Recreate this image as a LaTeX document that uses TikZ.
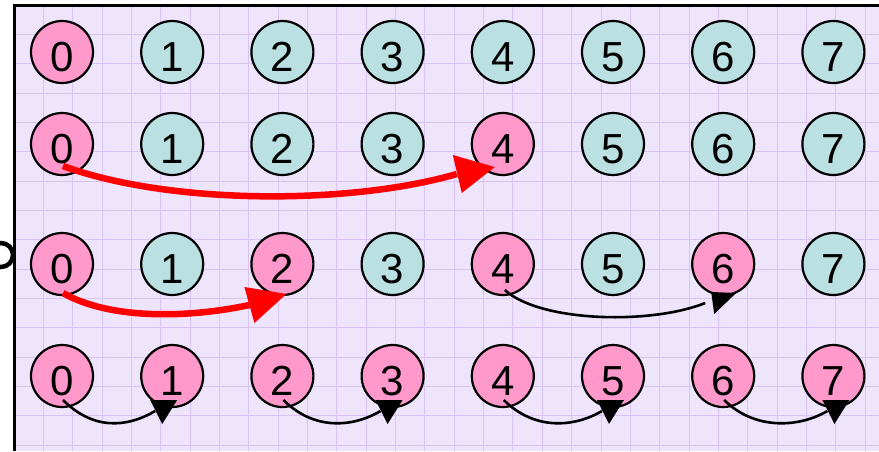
\documentclass[tikz,border=0pt]{standalone}
\usepackage{fontspec}
\setmainfont{Liberation Sans}
\usetikzlibrary{calc}
\definecolor{bgl}{HTML}{EEE4FC}
\definecolor{gridc}{HTML}{D9C3F4}
\definecolor{pinkc}{HTML}{FF99CC}
\definecolor{tealc}{HTML}{BAE0E2}
\definecolor{redc}{HTML}{FF0000}
\begin{document}
\begin{tikzpicture}[x=1pt,y=-1pt,
  proc/.style={circle,draw=black,line width=2.2pt,minimum size=62pt,inner sep=0pt,
    font=\fontsize{42}{42}\selectfont,text height=38pt,text depth=0pt},
  act/.style={proc,fill=pinkc},
  idle/.style={proc,fill=tealc},
  gridline/.style={draw=gridc,line width=1pt},
  redarrow/.style={draw=redc,line width=6.5pt},
  blkarrow/.style={draw=black,line width=2.6pt},
  redhead/.style={fill=redc},
  blkhead/.style={fill=black}]
\useasboundingbox (0,0) rectangle (879,451);
% background and grid
\fill[bgl] (14,5) rectangle (879,451);
\foreach \i in {0,...,29} \draw[gridline] ({14+29.35*\i},5) -- ({14+29.35*\i},451);
\foreach \j in {0,...,15} \draw[gridline] (14,{5+29.35*\j}) -- (879,{5+29.35*\j});
% partial letter at left edge
\draw[line width=4.5pt] (1,255) circle (12);
% frame
\draw[line width=3pt] (14,451) -- (14,5) -- (879,5);
% nodes
\foreach \c/\s in {0/act,1/idle,2/idle,3/idle,4/idle,5/idle,6/idle,7/idle}
  \node[\s] (r1c\c) at ({62+110.2*\c},52) {\c};
\foreach \c/\s in {0/act,1/idle,2/idle,3/idle,4/act,5/idle,6/idle,7/idle}
  \node[\s] (r2c\c) at ({62+110.2*\c},144) {\c};
\foreach \c/\s in {0/act,1/idle,2/act,3/idle,4/act,5/idle,6/act,7/idle}
  \node[\s] (r3c\c) at ({62+110.2*\c},264) {\c};
\foreach \c/\s in {0/act,1/act,2/act,3/act,4/act,5/act,6/act,7/act}
  \node[\s] (r4c\c) at ({62+110.2*\c},376) {\c};
% row 2 red arrow 0 -> 4
\draw[redarrow] ($(r2c0)+(1,22)$) .. controls ($(r2c0)+(108,61)$) and ($(r2c4)+(-153,61)$) .. ($(r2c4)+(-46,30)$);
\fill[redhead] ($(r2c4)+(-50,11)$) -- ($(r2c4)+(-8,23)$) -- ($(r2c4)+(-41,49)$) -- cycle;
% row 3 red arrow 0 -> 2
\draw[redarrow] ($(r3c0)+(1,29)$) .. controls ($(r3c0)+(48,56)$) and ($(r3c2)+(-93,54)$) .. ($(r3c2)+(-33,41)$);
\fill[redhead] ($(r3c2)+(-38,23)$) -- ($(r3c2)+(4,30)$) -- ($(r3c2)+(-28,59)$) -- cycle;
% row 3 black arrow 4 -> 6
\draw[blkarrow] ($(r3c4)+(2,26)$) .. controls ($(r3c4)+(37,58)$) and ($(r3c6)+(-73,61)$) .. ($(r3c6)+(-18,39)$);
\fill[blkhead] ($(r3c6)+(-12,28)$) -- ($(r3c6)+(13,29)$) -- ($(r3c6)+(-9,50)$) -- cycle;
% row 4 black arrows
\foreach \a/\b/\s in {0/1/-4,2/3/1,4/5/2,6/7/7}{
  \draw[blkarrow] ($(r4c\a)+(1,24)$) .. controls ($(r4c\a)+(31,54)$) and ($(r4c\b)+({\s-42},52)$) .. ($(r4c\b)+({\s-13},35)$);
  \fill[blkhead] ($(r4c\b)+({\s-18},24)$) -- ($(r4c\b)+({\s+9},24)$) -- ($(r4c\b)+({\s-6},48)$) -- cycle;
}
\end{tikzpicture}
\end{document}
